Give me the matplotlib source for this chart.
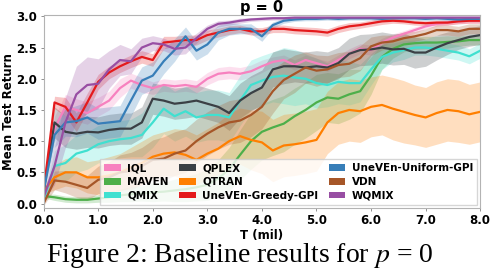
import numpy as np
import matplotlib
matplotlib.use("Agg")
import matplotlib.pyplot as plt
from matplotlib.patches import Patch

# x axis: every 0.2 million steps
t = np.arange(41) * 0.2

iql = [0.30, 1.20, 1.55, 1.50, 1.45, 1.55, 1.65, 1.85, 1.97, 1.90, 1.85, 1.90, 1.88, 1.90, 1.87,
       2.00, 2.08, 2.10, 2.08, 2.12, 2.20, 2.27, 2.30, 2.22, 2.30, 2.25, 2.20, 2.30, 2.40, 2.48,
       2.46, 2.58, 2.66, 2.72, 2.78, 2.84, 2.88, 2.90, 2.92, 2.93, 2.93]
maven = [0.12, 0.10, 0.07, 0.06, 0.06, 0.08, 0.10, 0.13, 0.15, 0.16, 0.18, 0.19, 0.21, 0.23, 0.26,
         0.30, 0.40, 0.55, 0.78, 1.00, 1.15, 1.22, 1.28, 1.40, 1.50, 1.62, 1.70, 1.68, 1.75, 1.80,
         2.05, 2.35, 2.48, 2.55, 2.57, 2.58, 2.58, 2.59, 2.60, 2.62, 2.62]
qmix = [0.05, 0.60, 0.65, 0.80, 0.85, 0.95, 1.00, 1.03, 1.05, 1.10, 1.30, 1.52, 1.40, 1.48, 1.38,
        1.42, 1.42, 1.38, 1.65, 1.90, 1.97, 2.03, 2.05, 2.02, 2.00, 1.93, 1.90, 1.95, 1.93, 1.93,
        2.15, 2.35, 2.42, 2.46, 2.50, 2.50, 2.48, 2.45, 2.42, 2.36, 2.45]
qplex = [0.20, 1.30, 1.15, 1.12, 1.15, 1.14, 1.18, 1.20, 1.20, 1.30, 1.68, 1.65, 1.60, 1.62, 1.65,
         1.60, 1.55, 1.45, 1.65, 1.77, 1.86, 2.15, 2.20, 2.20, 2.18, 2.20, 2.18, 2.25, 2.40, 2.46,
         2.47, 2.50, 2.47, 2.48, 2.42, 2.42, 2.50, 2.57, 2.62, 2.67, 2.70]
qtran = [0.20, 0.42, 0.50, 0.50, 0.42, 0.42, 0.45, 0.50, 0.58, 0.65, 0.75, 0.80, 0.82, 0.78, 0.70,
         0.80, 0.88, 1.00, 1.08, 1.02, 0.98, 0.85, 0.93, 0.95, 0.98, 1.02, 1.30, 1.45, 1.50, 1.48,
         1.55, 1.58, 1.52, 1.47, 1.42, 1.38, 1.45, 1.50, 1.48, 1.43, 1.47]
greedy = [0.20, 1.62, 1.55, 1.30, 1.62, 1.95, 2.10, 2.20, 2.28, 2.35, 2.30, 2.58, 2.60, 2.62, 2.62,
          2.70, 2.74, 2.78, 2.80, 2.76, 2.76, 2.80, 2.80, 2.78, 2.77, 2.76, 2.74, 2.80, 2.84, 2.86,
          2.89, 2.92, 2.93, 2.92, 2.90, 2.89, 2.90, 2.90, 2.92, 2.93, 2.93]
uniform = [0.20, 1.10, 1.30, 1.32, 1.38, 1.28, 1.30, 1.32, 1.65, 1.97, 2.05, 2.28, 2.46, 2.68, 2.45,
           2.55, 2.74, 2.80, 2.80, 2.80, 2.68, 2.86, 2.93, 2.95, 2.96, 2.96, 2.97, 2.96, 2.97, 2.97,
           2.97, 2.96, 2.97, 2.97, 2.97, 2.96, 2.97, 2.96, 2.95, 2.96, 2.96]
vdn = [0.00, 0.37, 0.35, 0.30, 0.25, 0.38, 0.42, 0.50, 0.52, 0.60, 0.70, 0.72, 0.80, 0.85, 1.00,
       1.12, 1.22, 1.30, 1.33, 1.42, 1.55, 1.80, 1.98, 2.08, 2.18, 2.13, 2.15, 2.22, 2.24, 2.33,
       2.52, 2.58, 2.60, 2.65, 2.68, 2.72, 2.78, 2.78, 2.76, 2.80, 2.80]
wqmix = [0.10, 0.60, 1.30, 1.75, 1.90, 1.92, 2.15, 2.30, 2.28, 2.50, 2.57, 2.55, 2.48, 2.50, 2.65,
         2.80, 2.88, 2.90, 2.93, 2.95, 2.96, 2.97, 2.97, 2.98, 2.98, 2.98, 2.98, 2.98, 2.98, 2.98,
         2.98, 2.98, 2.98, 2.98, 2.98, 2.98, 2.98, 2.98, 2.98, 2.98, 2.98]

# spread of the shaded bands
iql_sd = [0.05, 0.20, 0.20, 0.18, 0.18, 0.15, 0.15, 0.15, 0.12, 0.12, 0.10, 0.10, 0.10, 0.10, 0.10,
          0.10, 0.10, 0.10, 0.10, 0.10, 0.10, 0.08, 0.08, 0.08, 0.08, 0.08, 0.08, 0.08, 0.08, 0.08,
          0.08, 0.07, 0.06, 0.05, 0.05, 0.04, 0.04, 0.04, 0.04, 0.04, 0.04]
maven_sd = [0.03, 0.05, 0.05, 0.05, 0.05, 0.06, 0.08, 0.10, 0.12, 0.12, 0.15, 0.15, 0.18, 0.20, 0.22,
            0.25, 0.30, 0.35, 0.40, 0.45, 0.45, 0.45, 0.45, 0.45, 0.45, 0.45, 0.40, 0.40, 0.40, 0.35,
            0.30, 0.20, 0.15, 0.12, 0.10, 0.10, 0.10, 0.10, 0.08, 0.08, 0.08]
qmix_sd = [0.05, 0.25, 0.30, 0.30, 0.30, 0.30, 0.30, 0.30, 0.30, 0.35, 0.40, 0.40, 0.40, 0.40, 0.40,
           0.40, 0.40, 0.40, 0.40, 0.40, 0.40, 0.40, 0.45, 0.45, 0.40, 0.40, 0.35, 0.35, 0.35, 0.30,
           0.25, 0.20, 0.15, 0.15, 0.12, 0.12, 0.12, 0.12, 0.12, 0.12, 0.12]
qplex_sd = [0.05, 0.25, 0.25, 0.25, 0.25, 0.25, 0.25, 0.25, 0.25, 0.25, 0.25, 0.25, 0.25, 0.25, 0.25,
            0.25, 0.25, 0.28, 0.28, 0.28, 0.28, 0.28, 0.28, 0.25, 0.25, 0.25, 0.25, 0.25, 0.25, 0.25,
            0.25, 0.25, 0.25, 0.25, 0.25, 0.22, 0.20, 0.18, 0.15, 0.15, 0.15]
qtran_sd = [0.05, 0.20, 0.22, 0.25, 0.25, 0.28, 0.30, 0.30, 0.32, 0.35, 0.35, 0.35, 0.38, 0.40, 0.40,
            0.40, 0.42, 0.45, 0.45, 0.48, 0.50, 0.50, 0.50, 0.50, 0.50, 0.50, 0.50, 0.50, 0.50, 0.50,
            0.48, 0.48, 0.50, 0.50, 0.48, 0.48, 0.50, 0.50, 0.50, 0.48, 0.48]
greedy_sd = [0.05, 0.10, 0.15, 0.15, 0.15, 0.12, 0.10, 0.10, 0.10, 0.10, 0.10, 0.10, 0.08, 0.08, 0.08,
             0.08, 0.07, 0.07, 0.06, 0.06, 0.06, 0.06, 0.06, 0.06, 0.06, 0.06, 0.06, 0.06, 0.06, 0.05,
             0.05, 0.05, 0.04, 0.04, 0.04, 0.04, 0.04, 0.04, 0.04, 0.04, 0.04]
uniform_sd = [0.05, 0.20, 0.22, 0.25, 0.25, 0.25, 0.25, 0.25, 0.25, 0.22, 0.22, 0.20, 0.18, 0.15, 0.15,
              0.15, 0.12, 0.10, 0.08, 0.08, 0.08, 0.05, 0.04, 0.03, 0.03, 0.03, 0.03, 0.03, 0.03, 0.03,
              0.03, 0.03, 0.03, 0.03, 0.03, 0.03, 0.03, 0.03, 0.03, 0.03, 0.03]
vdn_sd = [0.03, 0.15, 0.18, 0.20, 0.20, 0.22, 0.25, 0.28, 0.30, 0.30, 0.32, 0.35, 0.35, 0.35, 0.35,
          0.35, 0.35, 0.35, 0.35, 0.35, 0.35, 0.35, 0.30, 0.30, 0.25, 0.25, 0.22, 0.20, 0.20, 0.20,
          0.15, 0.12, 0.10, 0.10, 0.08, 0.08, 0.08, 0.08, 0.08, 0.08, 0.08]
wqmix_sd = [0.05, 0.30, 0.40, 0.45, 0.45, 0.40, 0.30, 0.25, 0.20, 0.15, 0.12, 0.10, 0.10, 0.10, 0.08,
            0.06, 0.05, 0.04, 0.04, 0.03, 0.03, 0.03, 0.03, 0.02, 0.02, 0.02, 0.02, 0.02, 0.02, 0.02,
            0.02, 0.02, 0.02, 0.02, 0.02, 0.02, 0.02, 0.02, 0.02, 0.02, 0.02]

labels = ["IQL", "MAVEN", "QMIX", "QPLEX", "QTRAN", "UneVEn-Greedy-GPI",
          "UneVEn-Uniform-GPI", "VDN", "WQMIX"]
colors = ["#f781bf", "#4daf4a", "#40e0d0", "#3b4045", "#ff7f00", "#e41a1c",
          "#377eb8", "#a65628", "#984ea3"]
means = [iql, maven, qmix, qplex, qtran, greedy, uniform, vdn, wqmix]
spreads = [iql_sd, maven_sd, qmix_sd, qplex_sd, qtran_sd, greedy_sd, uniform_sd, vdn_sd, wqmix_sd]

plt.rcParams["font.family"] = ["DejaVu Sans"]
plt.rcParams["mathtext.fontset"] = "stix"

fig = plt.figure(figsize=(4.9, 2.7), dpi=100)
ax = fig.add_axes([0.089, 0.23, 0.891, 0.714])

for m, s, c in zip(means, spreads, colors):
    m = np.array(m)
    s = np.array(s)
    ax.fill_between(t, m - s, m + s, color=c, alpha=0.25, linewidth=0)
    ax.plot(t, m, color=c, linewidth=1.6)

ax.set_xlim(0, 8)
ax.set_ylim(-0.07, 3.02)
ax.set_xticks(np.arange(0, 9, 1.0))
ax.set_xticklabels([f"{v:.1f}" for v in np.arange(0, 9, 1.0)], fontweight="bold")
ax.set_yticks(np.arange(0, 3.01, 0.5))
ax.set_yticklabels([f"{v:.1f}" for v in np.arange(0, 3.01, 0.5)], fontweight="bold")
ax.tick_params(labelsize=8.5, length=2.5, width=0.6, pad=2, color="0.5")
for sp in ax.spines.values():
    sp.set_color("0.7")
    sp.set_linewidth(0.8)

ax.set_xlabel("T (mil)", fontsize=8.5, fontweight="bold", labelpad=1)
ax.set_ylabel("Mean Test Return", fontsize=8.5, fontweight="bold", labelpad=1)
ax.set_title("p = 0", fontsize=10.5, fontweight="bold", pad=2)

handles = [Patch(facecolor=c, edgecolor="none") for c in colors]
ax.legend(handles, labels, loc="lower right", ncol=3,
          prop={"weight": "bold", "size": 7.5}, handlelength=1.6, handleheight=0.6,
          columnspacing=1.0, labelspacing=0.35, borderpad=0.4, borderaxespad=0.3,
          handletextpad=0.6, framealpha=0.8, edgecolor="0.8", fancybox=False)

fig.text(0.49, 0.028, "Figure 2: Baseline results for $p$ = 0", ha="center", va="baseline",
         fontsize=20, family="Liberation Serif", fontweight="normal")

fig.savefig("out.png", dpi=100)
